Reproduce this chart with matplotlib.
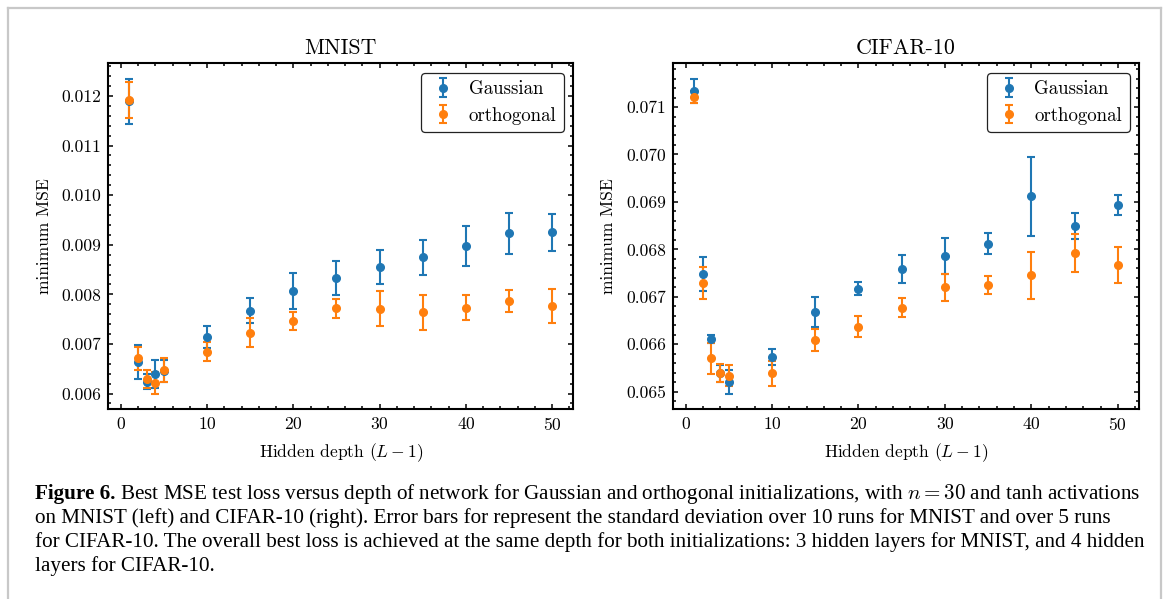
import matplotlib
matplotlib.use('Agg')
import matplotlib.pyplot as plt
from matplotlib.lines import Line2D
from matplotlib.ticker import MultipleLocator, FormatStrFormatter

# Profundidades ocultas (L - 1) avaliadas
depths = [1, 2, 3, 4, 5, 10, 15, 20, 25, 30, 35, 40, 45, 50]

# MNIST
mnist_gauss = [0.01189, 0.00663, 0.00624, 0.00640, 0.00646, 0.00714, 0.00767,
               0.00807, 0.00833, 0.00855, 0.00875, 0.00897, 0.00923, 0.00925]
mnist_gauss_std = [0.00045, 0.00034, 0.00015, 0.00028, 0.00022, 0.00022, 0.00025,
                   0.00036, 0.00035, 0.00034, 0.00035, 0.00040, 0.00041, 0.00037]
mnist_orth = [0.01192, 0.00671, 0.00629, 0.00622, 0.00648, 0.00684, 0.00723,
              0.00746, 0.00772, 0.00771, 0.00764, 0.00773, 0.00786, 0.00776]
mnist_orth_std = [0.00036, 0.00023, 0.00018, 0.00022, 0.00024, 0.00019, 0.00030,
                  0.00018, 0.00019, 0.00035, 0.00035, 0.00025, 0.00022, 0.00034]

# CIFAR-10
cifar_gauss = [0.07134, 0.06748, 0.06611, 0.06539, 0.06521, 0.06573, 0.06668,
               0.06717, 0.06759, 0.06786, 0.06812, 0.06912, 0.06849, 0.06894]
cifar_gauss_std = [0.00025, 0.00035, 0.00008, 0.00018, 0.00025, 0.00017, 0.00032,
                   0.00014, 0.00029, 0.00037, 0.00022, 0.00083, 0.00028, 0.00021]
cifar_orth = [0.07121, 0.06729, 0.06570, 0.06539, 0.06534, 0.06539, 0.06609,
              0.06637, 0.06677, 0.06720, 0.06724, 0.06745, 0.06792, 0.06768]
cifar_orth_std = [0.00013, 0.00033, 0.00032, 0.00019, 0.00023, 0.00026, 0.00023,
                  0.00022, 0.00020, 0.00028, 0.00019, 0.00050, 0.00040, 0.00038]

caption_bold = 'Figure 6.'
caption_lines = [
    ' Best MSE test loss versus depth of network for Gaussian and orthogonal initializations, with $n = 30$ and tanh activations',
    'on MNIST (left) and CIFAR-10 (right). Error bars for represent the standard deviation over 10 runs for MNIST and over 5 runs',
    'for CIFAR-10. The overall best loss is achieved at the same depth for both initializations: 3 hidden layers for MNIST, and 4 hidden',
    'layers for CIFAR-10.',
]

W, H = 1167, 599

plt.rcParams['font.family'] = 'serif'
plt.rcParams['font.serif'] = ['cmr10']
plt.rcParams['mathtext.fontset'] = 'cm'
plt.rcParams['axes.formatter.use_mathtext'] = True


def style_axes(ax, title):
    ax.set_title(title, fontsize=15.8, pad=7)
    ax.set_xlabel(r'Hidden depth $(L-1)$', fontsize=12.6, labelpad=6)
    ax.set_ylabel('minimum MSE', fontsize=12.6, labelpad=7)
    ax.xaxis.set_major_locator(MultipleLocator(10))
    ax.xaxis.set_minor_locator(MultipleLocator(2))
    ax.yaxis.set_major_locator(MultipleLocator(0.001))
    ax.yaxis.set_minor_locator(MultipleLocator(0.0002))
    ax.yaxis.set_major_formatter(FormatStrFormatter('%.3f'))
    ax.tick_params(which='both', direction='in', top=True, right=True, width=1.1)
    ax.tick_params(which='major', length=3.8, labelsize=12.6, pad=5)
    ax.tick_params(which='minor', length=2)
    for s in ax.spines.values():
        s.set_linewidth(1.5)
    leg = ax.legend(loc='upper right', fontsize=13.6, frameon=True, fancybox=True,
                    borderpad=0.4, handlelength=1.5, handletextpad=0.6,
                    labelspacing=0.45, borderaxespad=0.5)
    leg.get_frame().set_edgecolor('#222222')
    leg.get_frame().set_linewidth(0.9)
    leg.get_frame().set_alpha(1)


def plot_panel(ax, gauss, gauss_std, orth, orth_std, title):
    opts = dict(fmt='o', markersize=5.5, capsize=3, elinewidth=1.5, capthick=1.5)
    ax.errorbar(depths, gauss, yerr=gauss_std, color='#1f77b4', label='Gaussian', **opts)
    ax.errorbar(depths, orth, yerr=orth_std, color='#ff7f0e', label='orthogonal', **opts)
    style_axes(ax, title)


fig = plt.figure(figsize=(W / 100, H / 100), dpi=100)
ax1 = fig.add_axes([108.3 / W, 1 - 409.3 / H, 465 / W, 346 / H])
ax2 = fig.add_axes([673 / W, 1 - 409.3 / H, 466 / W, 346 / H])

plot_panel(ax1, mnist_gauss, mnist_gauss_std, mnist_orth, mnist_orth_std, 'MNIST')
plot_panel(ax2, cifar_gauss, cifar_gauss_std, cifar_orth, cifar_orth_std, 'CIFAR-10')

# Moldura cinza em volta da figura (aberta embaixo, como no recorte)
border = dict(color='#c8c8c8', lw=1.6, transform=fig.transFigure)
fig.add_artist(Line2D([7.5 / W, 7.5 / W], [0, 1 - 7.5 / H], **border))
fig.add_artist(Line2D([7.5 / W, 1161 / W], [1 - 7.5 / H, 1 - 7.5 / H], **border))
fig.add_artist(Line2D([1161 / W, 1161 / W], [0, 1 - 7.5 / H], **border))

# Legenda da figura (texto abaixo dos gráficos)
cap_font = dict(family='Liberation Serif', fontsize=15.2, va='center', ha='left')
line_y = [494, 518, 542, 566]
x0 = 35 / W
bold = fig.text(x0, 1 - line_y[0] / H, caption_bold, fontweight='bold', **cap_font)
fig.canvas.draw()
bb = bold.get_window_extent(renderer=fig.canvas.get_renderer())
fig.text(bb.x1 / W, 1 - line_y[0] / H, caption_lines[0], **cap_font)
for y, txt in zip(line_y[1:], caption_lines[1:]):
    fig.text(x0, 1 - y / H, txt, **cap_font)

fig.savefig('out.png', dpi=100)
